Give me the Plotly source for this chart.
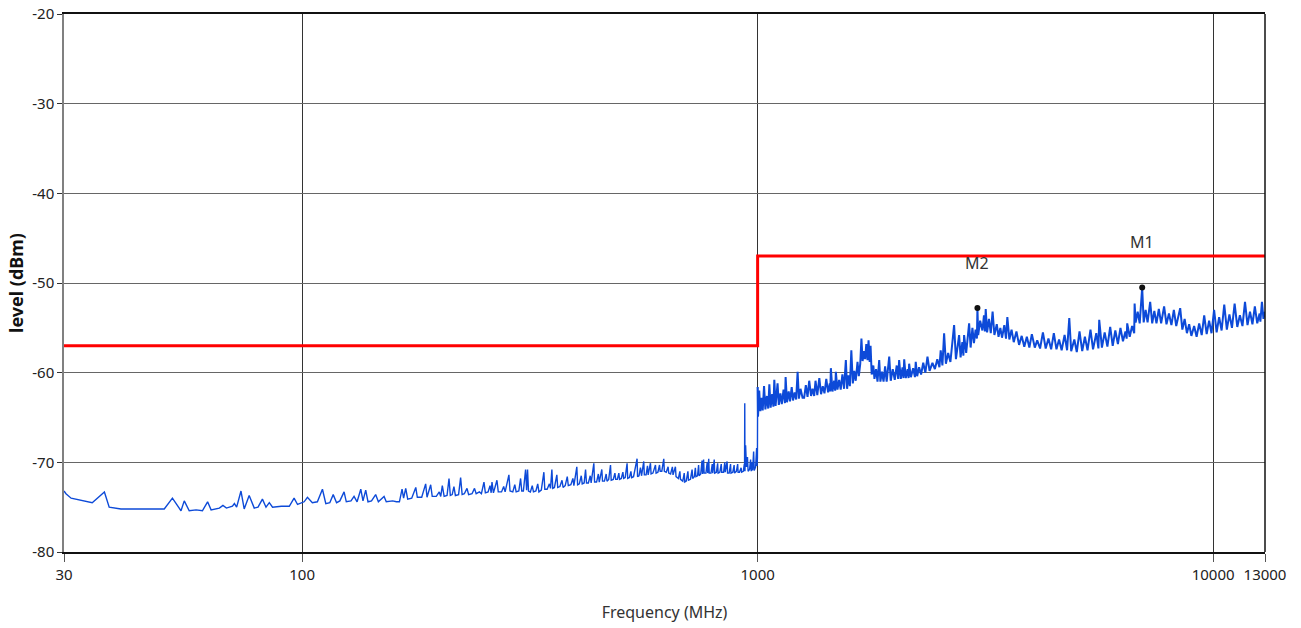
import math
import plotly.graph_objects as go

# ---------------- data ----------------
# measured spectrum (MHz, dBm) read from the picture
freq_mhz = [
    30, 30.3, 31.1, 33, 34.6, 36.8, 37.7, 40, 49.8, 51.9, 54.2, 55.1, 56.5, 58.5, 60.4, 62.0, 63.1,
    65.8, 67, 68.2, 70.3, 71, 71.8, 73.4, 74.6, 76.5, 78.5, 80, 81.8, 83.3, 84.7, 86.1, 90, 93.7,
    96.0, 97.7, 101.0, 102.7, 105.3, 108, 110.8, 112.7,
    115, 117, 119, 121, 123.6, 125, 128, 130, 132, 134.5, 136, 137.9, 139.5, 142, 145, 147, 151.3,
    153, 158, 161, 163.5, 165.7, 167, 168.8, 170.5, 174, 177.6, 179, 183, 186.7, 188, 191.5, 193,
    197, 200, 201.5, 203.1, 205, 208, 210.1, 211.5, 213.5, 215.4, 217, 220.5, 222.8, 224.5, 227,
    230.1, 232, 236, 239, 241, 245, 247.5, 250.7, 252.5, 256, 258.5, 260, 261.1, 263, 267.7, 269.5,
    274, 277, 279, 284.4, 286, 290, 293, 295, 299, 301.7, 303.5, 306, 309.4, 311, 312.5, 314, 317,
    320, 322, 326, 329, 331, 335, 339.4, 341, 345, 349, 351, 353.4, 355, 358, 362.4, 364, 368, 372,
    374, 378, 382, 384, 389, 393, 395, 400.9, 402.5, 406, 410, 412, 416, 419, 421, 425, 429, 431,
    436.9, 438.5, 443, 447, 449, 454.9, 456.5, 461, 465, 467, 471, 475.3, 477, 482, 486, 488, 492,
    495.8, 497.5, 502, 506, 508, 512, 516.9, 518.5, 523, 527, 529, 534, 538, 543.7, 545, 549, 553,
    556, 562.3, 564, 569, 573, 575, 581.7, 583.5, 589, 596.6, 598.5, 604, 609, 611, 616, 622.2, 624,
    630, 636, 638, 644, 649.9, 652, 659.9, 662, 670, 675, 677, 685, 690, 692, 697, 703, 705, 712,
    718, 720, 726, 730, 732, 738, 742, 744, 750, 755, 757, 761, 763, 770, 775, 777, 781, 783, 790,
    795, 797, 803, 805, 812, 817, 819, 826, 832, 834, 842, 847, 849, 857, 859, 866, 872, 874, 882,
    888, 890, 898, 904, 906, 912, 920, 922, 930, 935, 936, 937, 938, 941, 945, 950, 953, 960, 965,
    968, 972, 975, 980, 983, 990, 995, 997, 999, 1000,
    1002, 1008, 1014, 1020, 1026, 1033, 1040, 1048, 1055, 1061, 1068, 1076, 1083, 1088, 1095, 1106,
    1113, 1122, 1130, 1140, 1148, 1152, 1160, 1170, 1178, 1188, 1196, 1206, 1215, 1224, 1232, 1242,
    1255, 1265, 1276, 1287, 1298, 1310, 1320, 1331, 1340, 1352, 1366, 1378, 1390, 1402, 1415, 1428,
    1440, 1444, 1448, 1460, 1472, 1480, 1485, 1497, 1510, 1522, 1535, 1548, 1562, 1572, 1582, 1594,
    1606, 1618, 1630, 1642, 1657, 1668, 1680, 1690, 1700, 1712, 1722, 1732, 1743, 1752, 1762, 1770,
    1780, 1795, 1805, 1820, 1833, 1849, 1860, 1875, 1890, 1905, 1920, 1945, 1960, 1980, 2000, 2020,
    2035, 2045, 2062, 2080, 2090, 2098, 2115, 2135, 2145, 2151, 2170, 2195, 2215, 2224, 2240, 2262,
    2285, 2310, 2335, 2360, 2385, 2420, 2450, 2480, 2507, 2523, 2545, 2567, 2590, 2620, 2650, 2700,
    2725, 2769, 2790, 2815, 2830, 2840, 2870, 2913, 2935, 2962, 2985, 3010, 3030, 3038, 3050, 3080,
    3115, 3140, 3155, 3168, 3190, 3220, 3250, 3280, 3310, 3350, 3380, 3411, 3440, 3480, 3510, 3534,
    3570, 3610, 3650, 3700, 3750, 3800, 3850, 3900, 3950, 4000, 4060, 4110, 4170, 4230, 4290, 4350,
    4410, 4470, 4530, 4590, 4650, 4720, 4780, 4833, 4880, 4958, 5020, 5090, 5160, 5230, 5300, 5380,
    5450, 5540, 5600, 5623, 5700, 5780, 5860, 5944, 6020, 6100, 6180, 6260, 6340, 6420, 6460, 6478,
    6560, 6640, 6711, 6725, 6760, 6830, 6900, 6987, 7040, 7110, 7180, 7275, 7350, 7430, 7510, 7600,
    7690, 7806, 7900, 8000, 8100, 8200, 8300, 8467, 8560, 8660, 8760, 8860, 8960, 9085, 9200, 9320,
    9440, 9560, 9680, 9800, 9920, 10050, 10180, 10310, 10440, 10580, 10720, 10860, 11000, 11150,
    11300, 11450, 11600, 11750, 11900, 12050, 12200, 12350, 12500, 12650, 12700, 12800, 12900, 13000,
]
level_dbm = [
    -73.2, -73.5, -74.0, -74.3, -74.5, -73.3, -75.0, -75.2, -75.2, -74.0, -75.4, -74.3, -75.4, -75.3,
    -75.4, -74.4, -75.3, -75.1, -74.8, -75.1, -74.9, -74.6, -75.0, -73.2, -75.2, -73.7, -75.1, -75.0,
    -74.1, -75.0, -74.5, -75.0, -74.9, -74.9, -74.0, -74.7, -74.4, -73.9, -74.5, -74.4, -73.0, -74.6,
    -74.5, -73.6, -74.5, -74.3, -73.3, -74.4, -74.3, -73.8, -74.4, -73.0, -74.3, -73.1, -74.4, -74.3,
    -73.6, -74.4, -73.8, -74.4, -74.3, -74.4, -74.4, -73.0, -74.0, -72.9, -74.1, -74.0, -72.8, -73.9,
    -73.9, -72.4, -73.9, -72.5, -73.8, -73.8, -73.3, -73.8, -72.6, -73.8, -73.7, -71.8, -73.7, -73.6,
    -72.7, -73.7, -73.6, -71.7, -73.6, -73.5, -72.9, -73.6, -73.5, -72.9, -73.5, -73.3, -73.5, -72.2,
    -73.4, -73.3, -72.6, -73.4, -72.2, -73.4, -72.0, -73.3, -73.3, -72.7, -73.3, -71.4, -73.2, -73.3,
    -72.5, -73.3, -73.2, -71.8, -73.2, -73.2, -70.8, -73.1, -70.8, -73.2, -73.3, -72.6, -73.3, -73.2,
    -72.4, -73.3, -73.1, -71.1, -73.0, -73.0, -72.4, -72.9, -70.8, -72.9, -72.8, -71.4, -72.8, -72.7,
    -72.0, -72.8, -72.6, -71.6, -72.6, -72.5, -71.8, -72.6, -70.5, -72.5, -72.4, -71.5, -72.4, -72.3,
    -70.8, -72.3, -72.3, -71.5, -72.3, -70.1, -72.2, -72.2, -71.3, -72.2, -70.8, -72.1, -72.1, -71.3,
    -72.1, -71.9, -70.3, -72.0, -71.9, -71.2, -71.9, -71.9, -71.2, -71.9, -71.8, -71.1, -71.8, -71.7,
    -70.1, -71.8, -71.7, -71.0, -71.7, -71.6, -70.6, -69.6, -71.6, -71.5, -70.6, -71.5, -69.9, -71.4,
    -71.4, -70.4, -71.4, -70.1, -71.3, -71.2, -70.3, -71.2, -71.1, -70.3, -71.0, -71.0, -69.6, -71.0,
    -71.1, -70.5, -71.2, -71.3, -70.5, -71.4, -70.5, -71.6, -71.8, -71.0, -71.9, -72.1, -71.2, -72.2,
    -72.1, -71.0, -72.0, -71.9, -70.8, -71.8, -71.6, -70.6, -71.6, -71.5, -70.3, -71.5, -71.3, -69.8,
    -71.3, -69.7, -71.2, -71.2, -70.0, -71.2, -69.6, -71.2, -71.2, -70.2, -71.2, -69.7, -71.2, -71.1,
    -70.1, -71.2, -71.1, -70.2, -71.1, -71.1, -70.0, -71.1, -69.9, -71.2, -71.2, -70.2, -71.2, -71.1,
    -70.3, -71.2, -71.0, -70.2, -71.1, -71.1, -70.6, -71.1, -71.0, -70.2, -71.0, -63.4, -71.0, -68.1,
    -70.5, -69.4, -71.0, -70.8, -69.7, -71.0, -70.0, -70.9, -68.8, -70.9, -70.5, -68.4, -70.4, -69.5,
    -61.6,
    -64.9, -62.0, -64.3, -62.8, -64.2, -61.5, -64.1, -62.6, -64.0, -61.3, -63.9, -62.4, -63.8, -60.8,
    -63.7, -61.2, -63.6, -62.3, -63.5, -61.9, -63.4, -60.5, -63.3, -62.1, -63.2, -61.6, -63.1, -62.2,
    -63.0, -59.9, -62.9, -61.8, -62.8, -62.8, -61.4, -62.7, -60.9, -62.6, -61.8, -62.6, -60.9, -62.5,
    -60.6, -62.4, -61.5, -62.3, -60.7, -62.2, -61.2, -62.1, -59.5, -62.1, -60.9, -62.0, -59.9, -61.9,
    -60.8, -61.9, -60.2, -61.8, -58.6, -61.8, -60.3, -61.5, -57.5, -61.2, -59.8, -60.9, -58.8, -60.4,
    -59.0, -56.2, -58.7, -57.6, -58.5, -56.8, -58.6, -56.4, -58.8, -57.0, -60.2, -59.2, -60.7, -59.6,
    -61.0, -58.6, -61.0, -59.9, -61.0, -59.3, -61.0, -58.2, -60.9, -59.6, -60.8, -59.2, -60.7, -58.6,
    -60.7, -59.4, -60.6, -58.5, -60.6, -59.6, -60.6, -59.0, -60.5, -59.5, -60.5, -58.8, -60.4, -59.4,
    -60.2, -58.9, -60.0, -58.2, -59.8, -58.9, -59.6, -58.5, -59.4, -57.5, -59.2, -55.6, -59.0, -57.8,
    -58.8, -54.7, -58.5, -55.8, -58.3, -56.6, -58.1, -55.8, -57.8, -54.5, -57.2, -55.0, -56.7, -55.2,
    -56.2, -52.8, -55.8, -54.2, -55.3, -53.6, -55.4, -52.9, -55.5, -54.0, -55.6, -53.2, -55.8, -54.6,
    -56.0, -55.0, -56.1, -54.7, -56.2, -53.8, -56.3, -55.2, -56.6, -55.4, -56.9, -55.9, -57.1, -56.0,
    -57.2, -55.7, -57.2, -56.4, -57.3, -55.5, -57.3, -56.2, -57.4, -55.6, -57.4, -56.3, -57.5, -55.8,
    -57.5, -53.9, -57.6, -56.3, -57.7, -55.4, -57.6, -56.0, -57.5, -55.2, -57.4, -55.6, -57.3, -54.1,
    -57.2, -55.5, -57.1, -54.9, -57.0, -55.3, -56.8, -55.0, -56.5, -55.4, -56.2, -54.5, -56.0, -54.8,
    -55.6, -52.3, -54.4, -53.2, -54.5, -50.5, -54.4, -53.0, -54.4, -52.1, -54.5, -53.1, -54.5, -52.9,
    -54.5, -52.6, -54.6, -53.4, -54.7, -53.0, -54.8, -52.8, -55.2, -54.0, -55.6, -54.6, -55.9, -54.8,
    -56.0, -54.5, -55.8, -53.6, -55.7, -54.2, -55.6, -53.0, -55.5, -53.8, -55.3, -52.4, -55.2, -53.5,
    -55.0, -52.3, -54.9, -53.6, -54.8, -52.1, -54.7, -53.2, -54.6, -52.6, -54.5, -53.4, -54.3, -52.1,
    -54.0, -53.2,
]

# limit line (MHz, dBm)
limit_freq = [30, 1000, 13000]
limit_level = [-57, -47, -47]

# markers
marker_names = ["M1", "M2"]
marker_freq = [6987, 3038]
marker_level = [-50.5, -52.8]

# axis ticks
x_tickvals = [30, 100, 1000, 10000, 13000]
x_ticktext = ["30", "100", "1000", "10000", "13000"]
y_tickvals = [-80, -70, -60, -50, -40, -30, -20]
y_ticktext = ["-80", "-70", "-60", "-50", "-40", "-30", "-20"]

# ---------------- figure ----------------
FONT = "Noto Sans"
fig = go.Figure()

# split the sweep at 1000 MHz (the upper band is drawn with a denser trace)
split = freq_mhz.index(1000)
fig.add_trace(go.Scatter(
    x=freq_mhz[:split + 1], y=level_dbm[:split + 1], mode="lines",
    line=dict(color="#0d4ad8", width=1.4),
    showlegend=False, hoverinfo="x+y",
))
fig.add_trace(go.Scatter(
    x=freq_mhz[split:], y=level_dbm[split:], mode="lines",
    line=dict(color="#0d4ad8", width=2.0),
    showlegend=False, hoverinfo="x+y",
))

fig.add_trace(go.Scatter(
    x=limit_freq, y=limit_level, mode="lines",
    line=dict(color="#ff0000", width=3, shape="hv"),
    showlegend=False,
))

fig.add_trace(go.Scatter(
    x=marker_freq, y=marker_level, mode="markers",
    marker=dict(color="#111111", size=6, symbol="circle"),
    showlegend=False,
))

for name, f, lv in zip(marker_names, marker_freq, marker_level):
    fig.add_annotation(
        x=math.log10(f), y=lv, xref="x", yref="y", text=name, showarrow=False,
        yshift=45, font=dict(family=FONT, size=16, color="#333333"),
    )

# right border
fig.add_shape(type="line", xref="paper", yref="paper", x0=1, x1=1, y0=0, y1=1,
              line=dict(color="#111111", width=1.5))

fig.update_layout(
    width=1301, height=628,
    margin=dict(l=64, r=36, t=14, b=76, autoexpand=False),
    paper_bgcolor="white", plot_bgcolor="white",
    font=dict(family=FONT, size=14, color="#222222"),
    xaxis=dict(
        type="log", range=[math.log10(30), math.log10(13000)],
        tickvals=x_tickvals, ticktext=x_ticktext, automargin=False,
        showgrid=True, gridcolor="#333333", gridwidth=1,
        showline=True, linecolor="#111111", linewidth=2, mirror=True,
        ticks="outside", ticklen=8, tickcolor="#555555",
        tickfont=dict(family=FONT, size=15, color="#222222"),
        title=dict(text="Frequency (MHz)", font=dict(family=FONT, size=16, color="#333333"),
                   standoff=24),
        zeroline=False,
    ),
    yaxis=dict(
        range=[-80, -20], tickvals=y_tickvals, ticktext=y_ticktext, automargin=False,
        showgrid=True, gridcolor="#666666", gridwidth=1,
        showline=True, linecolor="#808080", linewidth=1.5,
        ticks="outside", ticklen=5, tickcolor="#333333",
        tickfont=dict(family=FONT, size=15, color="#222222"),
        title=dict(text="<b>level (dBm)</b>", font=dict(family=FONT, size=18, color="#111111"),
                   standoff=4),
        zeroline=False,
    ),
)

fig.write_html("out.html")
